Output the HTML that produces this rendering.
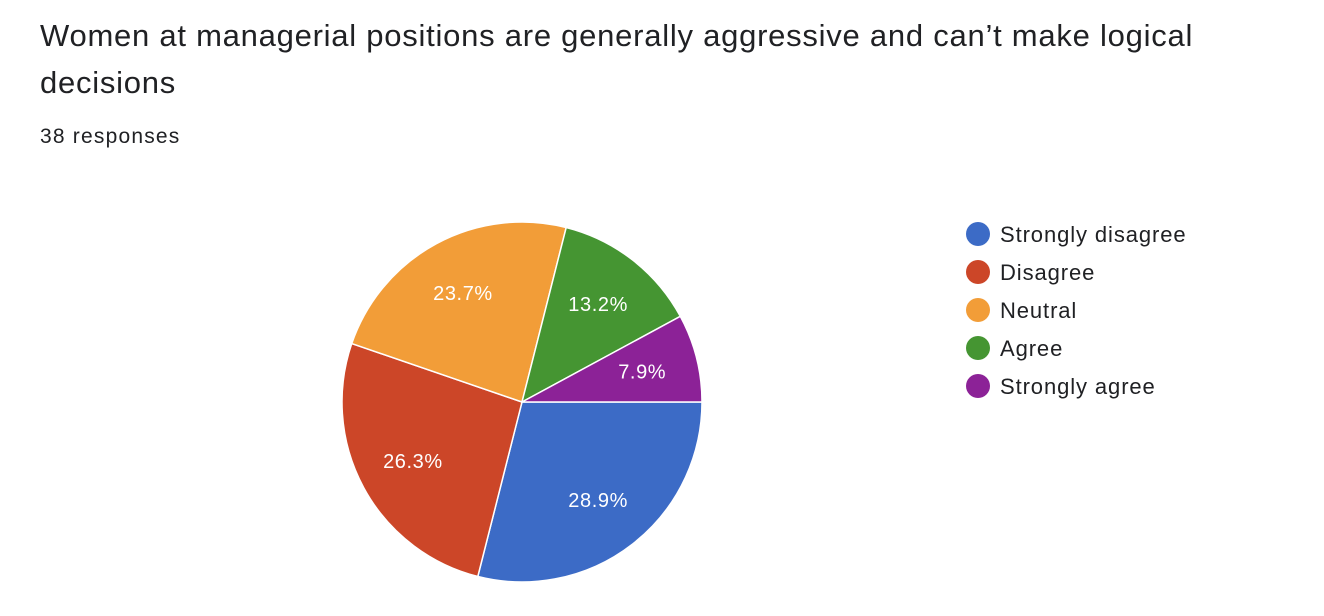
<!DOCTYPE html>
<html><head><meta charset="utf-8"><style>
body{margin:0;width:1324px;height:616px;background:#fff;font-family:"Liberation Sans",Arial,sans-serif;overflow:hidden}
.title{position:absolute;left:40px;top:12px;font-size:31px;line-height:47px;color:#202124;width:1250px;letter-spacing:0.75px}
.resp{position:absolute;left:40px;top:125px;font-size:21px;color:#202124;letter-spacing:1.2px}
</style></head><body>
<div class="title">Women at managerial positions are generally aggressive and can’t make logical<br>decisions</div>
<div class="resp">38 responses</div>
<svg id="chart" width="1324" height="616" style="position:absolute;left:0;top:0"></svg>
<script>
const categories=["Strongly disagree","Disagree","Neutral","Agree","Strongly agree"];
const values=[11,10,9,5,3];
const colors=["#3c6bc6","#cc4628","#f29d38","#459532","#8c2297"];
const svg=document.getElementById('chart');
const NS="http://www.w3.org/2000/svg";
const cx=522,cy=402,r=180;
const total=values.reduce((a,b)=>a+b,0);
let a=0;
values.forEach((v,i)=>{
  const f=v/total,a2=a+f*2*Math.PI;
  const x1=cx+r*Math.cos(a),y1=cy+r*Math.sin(a),x2=cx+r*Math.cos(a2),y2=cy+r*Math.sin(a2);
  const p=document.createElementNS(NS,'path');
  p.setAttribute('d',`M${cx},${cy}L${x1},${y1}A${r},${r} 0 ${f>0.5?1:0} 1 ${x2},${y2}Z`);
  p.setAttribute('fill',colors[i]);p.setAttribute('stroke','#fff');p.setAttribute('stroke-width','1.5');
  
  
  svg.appendChild(p);
  const m=(a+a2)/2,t=document.createElementNS(NS,'text');
  t.setAttribute('x',cx+124*Math.cos(m));t.setAttribute('y',cy+124*Math.sin(m)+7);
  t.setAttribute('text-anchor','middle');t.setAttribute('fill','#fff');t.setAttribute('font-size','20');
  t.setAttribute('letter-spacing','0.6');
  t.textContent=(f*100).toFixed(1)+'%';
  
  
  svg.appendChild(t);
  a=a2;
});
categories.forEach((c,i)=>{
  const g=document.createElementNS(NS,'g');
  
  
  const y=234+i*38;
  const ci=document.createElementNS(NS,'circle');
  ci.setAttribute('cx',978);ci.setAttribute('cy',y);ci.setAttribute('r',12);ci.setAttribute('fill',colors[i]);
  const t=document.createElementNS(NS,'text');
  t.setAttribute('x',1000);t.setAttribute('y',y+8);t.setAttribute('font-size','22');t.setAttribute('fill','#202124');
  t.setAttribute('letter-spacing','0.9');
  t.textContent=c;
  g.appendChild(ci);g.appendChild(t);svg.appendChild(g);
});
</script>
</body></html>
